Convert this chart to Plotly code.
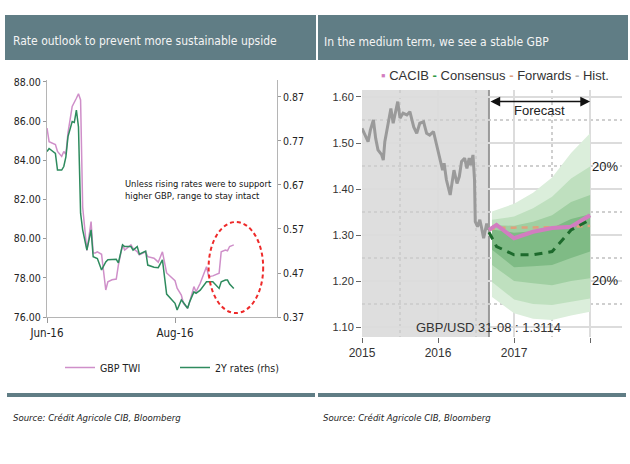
import plotly.graph_objects as go

W, H = 630, 464
SANS = "Liberation Sans, Arial, sans-serif"
COND = "DejaVu Sans Condensed, Liberation Sans, sans-serif"
BAR = "#607d85"

# ---- left panel: GBP TWI vs 2Y rates ----
dates = ['2016-06-01', '2016-06-02', '2016-06-05', '2016-06-06', '2016-06-08', '2016-06-09',
         '2016-06-10', '2016-06-11', '2016-06-13', '2016-06-14', '2016-06-15', '2016-06-16',
         '2016-06-17', '2016-06-18', '2016-06-20', '2016-06-21', '2016-06-22', '2016-06-23',
         '2016-06-24', '2016-06-25', '2016-06-27', '2016-06-29', '2016-06-30', '2016-07-02',
         '2016-07-04', '2016-07-05', '2016-07-07', '2016-07-08', '2016-07-10', '2016-07-11',
         '2016-07-12', '2016-07-14', '2016-07-15', '2016-07-18', '2016-07-19', '2016-07-22',
         '2016-07-24', '2016-07-26', '2016-07-28', '2016-07-30', '2016-08-01', '2016-08-02',
         '2016-08-04', '2016-08-05', '2016-08-07', '2016-08-08', '2016-08-10', '2016-08-11',
         '2016-08-13', '2016-08-16', '2016-08-17', '2016-08-19', '2016-08-22', '2016-08-23',
         '2016-08-25', '2016-08-26', '2016-08-27', '2016-08-29']
gbp_twi = [85.65, 84.95, 84.80, 84.45, 84.20, 84.45, 84.30, 85.40, 86.75, 87.00, 87.17, 87.40,
           87.08, 81.60, 79.40, 80.10, 80.87, 79.27, 79.27, 79.33, 79.20, 77.38, 77.80, 77.90,
           77.94, 78.65, 79.68, 79.42, 79.60, 79.68, 79.50, 79.33, 79.17, 79.33, 79.08, 79.00,
           78.80, 79.33, 78.25, 78.06, 77.85, 77.47, 77.12, 76.70, 76.44, 76.78, 77.55, 77.29,
           77.72, 78.57, 78.06, 78.10, 78.23, 79.33, 79.42, 79.38, 79.60, 79.68]
rates_2y = [0.746, 0.753, 0.742, 0.704, 0.704, 0.712, 0.734, 0.780, 0.814, 0.812, 0.840, 0.802,
            0.606, 0.568, 0.522, 0.550, 0.568, 0.507, 0.505, 0.503, 0.477, 0.495, 0.500, 0.500,
            0.501, 0.493, 0.534, 0.530, 0.530, 0.530, 0.522, 0.530, 0.513, 0.520, 0.488, 0.483,
            0.482, 0.500, 0.422, 0.412, 0.401, 0.386, 0.409, 0.403, 0.390, 0.405, 0.427, 0.424,
            0.431, 0.450, 0.450, 0.450, 0.435, 0.450, 0.454, 0.454, 0.445, 0.435]
left_yticks = [76, 78, 80, 82, 84, 86, 88]
right_yticks = [0.37, 0.47, 0.57, 0.67, 0.77, 0.87]
left_xticks = ['2016-06-01', '2016-08-01']
left_xlabels = ['Jun-16', 'Aug-16']

# ---- right panel: GBP/USD history and forecast fan ----
hist_t = [2015.00, 2015.04, 2015.08, 2015.11, 2015.15, 2015.18, 2015.21, 2015.26, 2015.28, 2015.30,
          2015.35, 2015.38, 2015.41, 2015.44, 2015.47, 2015.50, 2015.54, 2015.59, 2015.63, 2015.68,
          2015.72, 2015.76, 2015.81, 2015.85, 2015.89, 2015.94, 2015.98, 2016.03, 2016.06, 2016.08,
          2016.11, 2016.16, 2016.19, 2016.21, 2016.25, 2016.28, 2016.31, 2016.35, 2016.38, 2016.41,
          2016.43, 2016.46, 2016.48, 2016.49, 2016.52, 2016.55, 2016.57, 2016.60, 2016.64, 2016.66]
hist_v = [1.532, 1.517, 1.503, 1.528, 1.550, 1.510, 1.485, 1.474, 1.463, 1.503,
          1.543, 1.575, 1.543, 1.568, 1.590, 1.554, 1.565, 1.561, 1.568, 1.535,
          1.521, 1.543, 1.546, 1.521, 1.517, 1.525, 1.496, 1.463, 1.441, 1.456,
          1.420, 1.387, 1.427, 1.441, 1.412, 1.427, 1.460, 1.467, 1.445, 1.467,
          1.452, 1.474, 1.420, 1.329, 1.318, 1.333, 1.318, 1.293, 1.325, 1.311]

fc_t = [2016.67, 2016.77, 2017.00, 2017.25, 2017.50, 2017.75, 2018.00]
cacib = [1.311, 1.322, 1.293, 1.307, 1.315, 1.318, 1.343]
consensus = [1.306, 1.275, 1.257, 1.257, 1.264, 1.311, 1.333]
forwards = [1.311, 1.316, 1.316, 1.316, 1.317, 1.318, 1.320]

fan_t = [2016.71, 2017.00, 2017.25, 2017.50, 2017.75, 2018.00]
outer_hi = [1.351, 1.368, 1.392, 1.425, 1.478, 1.521]
b2_hi = [1.333, 1.340, 1.358, 1.383, 1.423, 1.449]
b3_hi = [1.322, 1.320, 1.329, 1.343, 1.372, 1.387]
b4_hi = [1.312, 1.305, 1.308, 1.315, 1.335, 1.345]
b4_lo = [1.268, 1.230, 1.232, 1.235, 1.250, 1.264]
b3_lo = [1.235, 1.200, 1.195, 1.191, 1.200, 1.206]
b2_lo = [1.198, 1.160, 1.150, 1.148, 1.155, 1.162]
outer_lo = [1.165, 1.130, 1.118, 1.115, 1.125, 1.133]
fan_colors = ['#dbeedb', '#bfe0bf', '#a0cfa2', '#7fbb85']

right_yticks_v = [1.10, 1.20, 1.30, 1.40, 1.50, 1.60]
year_ticks = [2015, 2016, 2017, 2018]
year_labels = ['2015', '2016', '2017', '']
forecast_start = 2016.67
spot_text = 'GBP/USD 31-08 : 1.3114'


def px_x(p):
    return p / W


def px_y(p):
    return 1 - p / H


fig = go.Figure()

fig.add_trace(go.Scatter(x=dates, y=gbp_twi, mode='lines', name='GBP TWI',
                         line=dict(color='#cf8fc9', width=1.5), xaxis='x', yaxis='y'))
fig.add_trace(go.Scatter(x=dates, y=rates_2y, mode='lines', name='2Y rates (rhs)',
                         line=dict(color='#2e8b5e', width=1.5), xaxis='x', yaxis='y2'))

bands = [(outer_lo, outer_hi), (b2_lo, b2_hi), (b3_lo, b3_hi), (b4_lo, b4_hi)]
for (lo, hi), col in zip(bands, fan_colors):
    fig.add_trace(go.Scatter(x=fan_t, y=lo, mode='lines', line=dict(width=0), showlegend=False,
                             hoverinfo='skip', xaxis='x3', yaxis='y3'))
    fig.add_trace(go.Scatter(x=fan_t, y=hi, mode='lines', line=dict(width=0), fill='tonexty',
                             fillcolor=col, showlegend=False, hoverinfo='skip',
                             xaxis='x3', yaxis='y3'))

fig.add_trace(go.Scatter(x=hist_t, y=hist_v, mode='lines', line=dict(color='#9a9a9a', width=3),
                         showlegend=False, xaxis='x3', yaxis='y3'))
fig.add_trace(go.Scatter(x=fc_t, y=forwards, mode='lines',
                         line=dict(color='#e0a07c', width=2.5, dash='6px,5px'),
                         showlegend=False, xaxis='x3', yaxis='y3'))
fig.add_trace(go.Scatter(x=fc_t, y=cacib, mode='lines', line=dict(color='#d27dc0', width=4),
                         showlegend=False, xaxis='x3', yaxis='y3'))
fig.add_trace(go.Scatter(x=fc_t, y=consensus, mode='lines',
                         line=dict(color='#1d6a2c', width=3, dash='8px,6px'),
                         showlegend=False, xaxis='x3', yaxis='y3'))

axis_font = dict(family=COND, size=10.5, color='#222')
fig.update_layout(
    template='none',
    width=W, height=H, margin=dict(l=0, r=0, t=0, b=0, pad=0), autosize=False,
    paper_bgcolor='white', plot_bgcolor='white',
    showlegend=True,
    legend=dict(orientation='h', x=px_x(60), y=px_y(353), xanchor='left', yanchor='top',
                font=dict(family=COND, size=10.5, color='#222'), bgcolor='rgba(0,0,0,0)',
                traceorder='normal', itemwidth=30, entrywidth=70),
    xaxis=dict(domain=[px_x(47), px_x(277)], anchor='y', type='date', automargin=False,
               range=['2016-06-01', '2016-09-18 14:00'],
               tickmode='array', tickvals=left_xticks, ticktext=left_xlabels,
               ticks='outside', ticklen=5, tickcolor='#999', showline=True, linecolor='#b5b5b5',
               showgrid=False, zeroline=False, tickfont=dict(family=COND, size=11.5, color='#222')),
    yaxis=dict(domain=[px_y(317), px_y(80)], anchor='x', range=[76, 88.1], automargin=False,
               tickmode='array', tickvals=left_yticks, tickformat='.2f',
               ticks='outside', ticklen=3, tickcolor='#999', showline=True, linecolor='#b5b5b5',
               showgrid=False, zeroline=False, tickfont=axis_font),
    yaxis2=dict(overlaying='y', side='right', anchor='x', range=[0.37, 0.9086], automargin=False,
                tickmode='array', tickvals=right_yticks, tickformat='.2f',
                ticks='outside', ticklen=3, tickcolor='#999', showline=True, linecolor='#b5b5b5',
                showgrid=False, zeroline=False, tickfont=axis_font),
    xaxis3=dict(domain=[px_x(362), px_x(622)], anchor='y3', range=[2015.0, 2018.42],
                automargin=False,
                tickmode='array', tickvals=year_ticks, ticktext=year_labels,
                ticks='outside', ticklen=5, tickcolor='#666', showline=False, zeroline=False,
                showgrid=True, gridcolor='#dcdcdc', gridwidth=1.5,
                minor=dict(tickvals=[2015.5, 2016.5, 2017.5], showgrid=True, griddash='dot',
                           gridcolor='#cfcfcf', gridwidth=1.5),
                tickfont=dict(family=SANS, size=12, color='#333')),
    yaxis3=dict(domain=[px_y(337), px_y(90)], anchor='x3', range=[1.0783, 1.6152],
                automargin=False,
                tickmode='array', tickvals=right_yticks_v, tickformat='.2f',
                ticks='outside', ticklen=5, tickcolor='#666', showline=False, zeroline=False,
                showgrid=True, gridcolor='#dcdcdc', gridwidth=1.5,
                minor=dict(tickvals=[1.15, 1.25, 1.35, 1.45, 1.55], showgrid=True,
                           griddash='dot', gridcolor='#cfcfcf', gridwidth=1.5),
                tickfont=dict(family=SANS, size=11, color='#333')),
)

shapes = [
    dict(type='rect', xref='paper', yref='paper', x0=px_x(5), x1=px_x(316),
         y0=px_y(60), y1=px_y(15), fillcolor=BAR, line=dict(width=0), layer='below'),
    dict(type='rect', xref='paper', yref='paper', x0=px_x(318), x1=px_x(628),
         y0=px_y(60), y1=px_y(15), fillcolor=BAR, line=dict(width=0), layer='below'),
    dict(type='line', xref='paper', yref='paper', x0=px_x(7), x1=px_x(315),
         y0=px_y(395), y1=px_y(395), line=dict(color=BAR, width=4)),
    dict(type='line', xref='paper', yref='paper', x0=px_x(318), x1=px_x(626),
         y0=px_y(395), y1=px_y(395), line=dict(color=BAR, width=4)),
    dict(type='circle', xref='x', yref='y', x0='2016-08-17', x1='2016-09-12', y0=76.2, y1=80.85,
         line=dict(color='#ee2a2a', width=2, dash='4px,3px')),
    dict(type='rect', xref='x3', yref='y3 domain', x0=2015.0, x1=forecast_start, y0=0, y1=1,
         fillcolor='#dedede', line=dict(width=0), layer='below'),
    dict(type='line', xref='x3', yref='y3 domain', x0=forecast_start, x1=forecast_start,
         y0=0, y1=1, line=dict(color='#9a9a9a', width=2), layer='below'),
]
fig.update_layout(shapes=shapes)

legend_right = ("<span style='color:#d27dc0'>▪</span> CACIB "
                "<span style='color:#2f9a46'><b>-</b></span> Consensus "
                "<span style='color:#e0a07c'><b>-</b></span> Forwards "
                "<span style='color:#b0b0b0'><b>-</b></span> Hist.")

annotations = [
    dict(text='Rate outlook to prevent more sustainable upside', xref='paper', yref='paper',
         x=px_x(11), y=px_y(41), xanchor='left', yanchor='middle', showarrow=False,
         font=dict(family=COND, size=12, color='#f4f4f4')),
    dict(text='In the medium term, we see a stable GBP', xref='paper', yref='paper',
         x=px_x(322), y=px_y(42), xanchor='left', yanchor='middle', showarrow=False,
         font=dict(family=COND, size=12, color='#f4f4f4')),
    dict(text='Source: Crédit Agricole CIB, Bloomberg', xref='paper', yref='paper',
         x=px_x(11), y=px_y(417), xanchor='left', yanchor='middle', showarrow=False,
         font=dict(family=COND, size=9.5, color='#222', style='italic')),
    dict(text='Source: Crédit Agricole CIB, Bloomberg', xref='paper', yref='paper',
         x=px_x(321), y=px_y(417), xanchor='left', yanchor='middle', showarrow=False,
         font=dict(family=COND, size=9.5, color='#222', style='italic')),
    dict(text='Unless rising rates were to support<br>higher GBP, range to stay intact',
         xref='x', yref='y', x='2016-07-07', y=82.5, xanchor='left', yanchor='middle',
         align='left', showarrow=False, font=dict(family=COND, size=9.3, color='#111')),
    dict(text=legend_right, xref='paper', yref='paper', x=px_x(379), y=px_y(75),
         xanchor='left', yanchor='middle', showarrow=False,
         font=dict(family=SANS, size=13, color='#333')),
    dict(text='', xref='x3', yref='y3', x=2018.0, y=1.590, ax=forecast_start, ay=1.590,
         axref='x3', ayref='y3', showarrow=True, arrowside='end+start', arrowhead=2,
         arrowsize=1.3, arrowwidth=1.5, arrowcolor='#111'),
    dict(text='Forecast', xref='x3', yref='y3', x=2017.34, y=1.570, showarrow=False,
         font=dict(family=SANS, size=13, color='#222')),
    dict(text='20%', xref='x3', yref='y3', x=2018.2, y=1.448, showarrow=False,
         font=dict(family=SANS, size=13, color='#222')),
    dict(text='20%', xref='x3', yref='y3', x=2018.2, y=1.202, showarrow=False,
         font=dict(family=SANS, size=13, color='#222')),
    dict(text=spot_text, xref='x3', yref='y3', x=2016.66, y=1.100, showarrow=False,
         font=dict(family=SANS, size=13, color='#333')),
]
fig.update_layout(annotations=annotations)

fig.write_html("out.html", config={'displayModeBar': False},
               post_script="document.body.style.margin='0';")
